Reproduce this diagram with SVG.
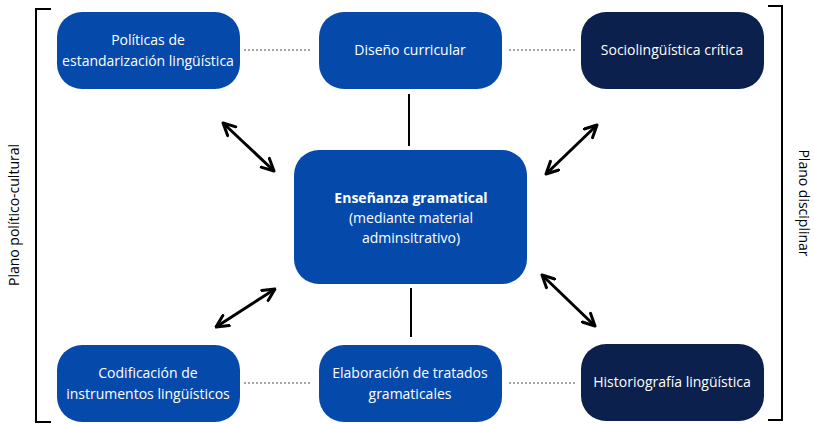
<svg xmlns="http://www.w3.org/2000/svg" width="814" height="424" viewBox="0 0 814 424">
<style>
.blue{fill:#054aab}
.navy{fill:#0b204d}
.t{font-family:"Open Sans","Noto Sans",sans-serif;font-size:14px;fill:#fff;text-anchor:middle}
.b{font-weight:bold}
.dot{stroke:#a6a6a6;stroke-width:2;stroke-dasharray:2 2;fill:none}
.ln{stroke:#000;stroke-width:2;fill:none}
.arr{stroke:#000;stroke-width:3;fill:none;marker-start:url(#ah);marker-end:url(#ah)}
.lab{font-family:"Open Sans","Noto Sans",sans-serif;font-size:14px;fill:#000;text-anchor:middle}
</style>
<defs>
<marker id="ah" viewBox="0 0 10 10" refX="9" refY="5" markerWidth="5" markerHeight="5" orient="auto-start-reverse" markerUnits="strokeWidth">
<polyline points="1,1 9,5 1,9" fill="none" stroke="#000" stroke-width="2" stroke-linecap="round" stroke-linejoin="round"/>
</marker>
</defs>
<g id="brackets">
<polyline class="ln" points="51,9 36,9 36,422 51,422"/>
<polyline class="ln" points="768,6 782,6 782,420 768,420"/>
<text class="lab" transform="translate(19,215) rotate(-90)">Plano político-cultural</text>
<text class="lab" transform="translate(799,203) rotate(90)">Plano disciplinar</text>
</g>
<g id="connectors">
<line class="dot" x1="244" y1="50" x2="310" y2="50"/>
<line class="dot" x1="509" y1="50" x2="575" y2="50"/>
<line class="dot" x1="244" y1="383" x2="310" y2="383"/>
<line class="dot" x1="509" y1="383" x2="575" y2="383"/>
<line class="ln" x1="409" y1="94" x2="409" y2="146"/>
<line class="ln" x1="411" y1="288" x2="411" y2="337"/>
<line class="arr" x1="223" y1="123" x2="274" y2="171"/>
<line class="arr" x1="597" y1="125" x2="546" y2="174"/>
<line class="arr" x1="275" y1="289" x2="216" y2="327"/>
<line class="arr" x1="542" y1="275" x2="595" y2="326"/>
</g>
<g id="n1"><rect class="blue" x="57" y="12" width="183" height="77" rx="25"/>
<text class="t" x="148" y="45">Políticas de</text><text class="t" x="148" y="66">estandarización lingüística</text></g>
<g id="n2"><rect class="blue" x="319" y="12" width="183" height="77" rx="25"/>
<text class="t" x="410" y="55">Diseño curricular</text></g>
<g id="n3"><rect class="navy" x="581" y="12" width="183" height="77" rx="25"/>
<text class="t" x="672" y="55">Sociolingüística crítica</text></g>
<g id="center"><rect class="blue" x="294" y="150" width="233" height="134" rx="25"/>
<text class="t b" x="411" y="203">Enseñanza gramatical</text>
<text class="t" x="411" y="223">(mediante material</text>
<text class="t" x="411" y="243">adminsitrativo)</text></g>
<g id="n4"><rect class="blue" x="57" y="345" width="183" height="77" rx="25"/>
<text class="t" x="148" y="378">Codificación de</text><text class="t" x="148" y="399">instrumentos lingüísticos</text></g>
<g id="n5"><rect class="blue" x="319" y="345" width="183" height="77" rx="25"/>
<text class="t" x="410" y="378">Elaboración de tratados</text><text class="t" x="410" y="399">gramaticales</text></g>
<g id="n6"><rect class="navy" x="581" y="344" width="183" height="77" rx="25"/>
<text class="t" x="672" y="387">Historiografía lingüística</text></g>
</svg>
